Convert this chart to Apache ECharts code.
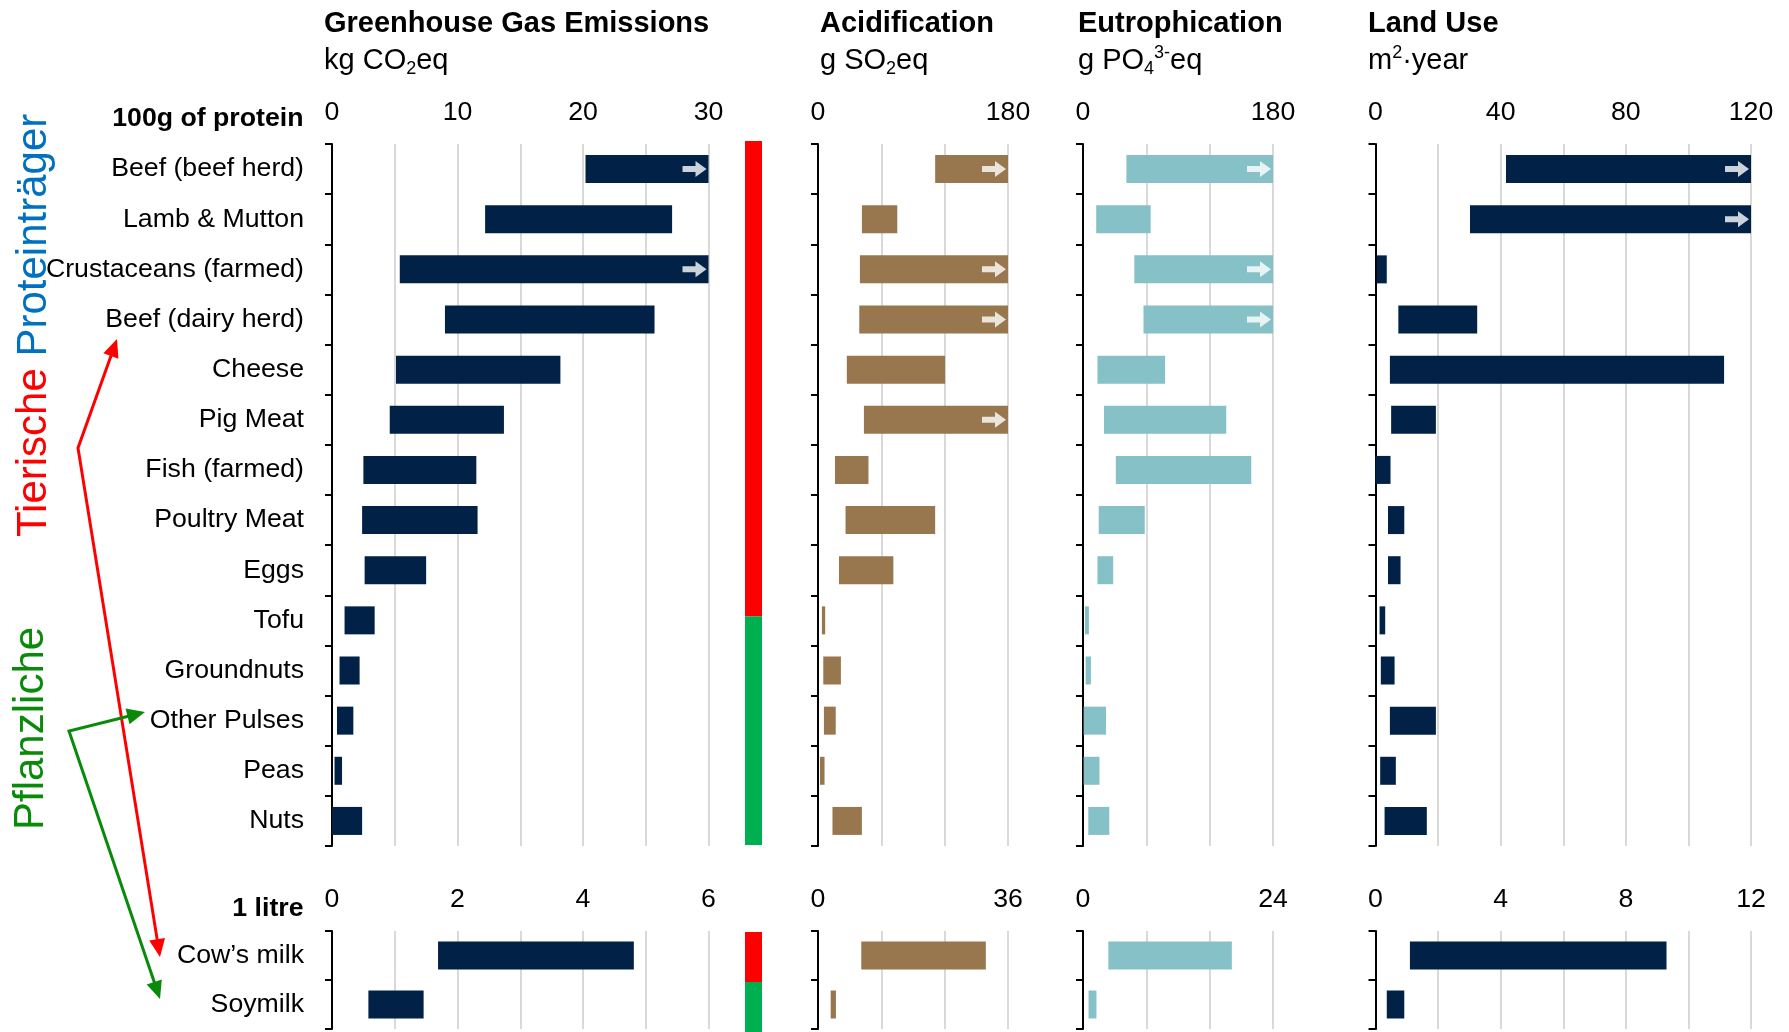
<!DOCTYPE html>
<html>
<head>
<meta charset="utf-8">
<script src="https://cdn.jsdelivr.net/npm/echarts@6/dist/echarts.min.js"></script>
<style>html,body{margin:0;padding:0;background:#fff}#chart{width:1789px;height:1032px}</style>
</head>
<body>
<div id="chart"></div>
<script>
var foods = ['Beef (beef herd)', 'Lamb & Mutton', 'Crustaceans (farmed)', 'Beef (dairy herd)', 'Cheese',
    'Pig Meat', 'Fish (farmed)', 'Poultry Meat', 'Eggs', 'Tofu', 'Groundnuts', 'Other Pulses', 'Peas', 'Nuts'];
var drinks = ['Cow\u2019s milk', 'Soymilk'];

// per 100g of protein: low / high end of each range (high = axis max -> bar is cut, arrow)
var ghgLow   = [20.2, 12.2, 5.4, 9.0, 5.1, 4.6, 2.5, 2.4, 2.6, 1.0, 0.6, 0.4, 0.2, 0.0];
var ghgHigh  = [30, 27.1, 30, 25.7, 18.2, 13.7, 11.5, 11.6, 7.5, 3.4, 2.2, 1.7, 0.8, 2.4];
var acidLow  = [111, 41.6, 39.7, 39.1, 27.3, 43.5, 16.1, 26.1, 19.9, 3.7, 5.0, 5.6, 1.9, 13.7];
var acidHigh = [180, 75.1, 180, 180, 120.4, 180, 47.8, 111, 71.4, 6.8, 21.7, 16.8, 6.2, 41.6];
var eutLow   = [41.1, 12.5, 48.6, 57.3, 13.7, 19.9, 31.1, 14.9, 13.7, 1.9, 2.5, 0.6, 0.6, 5.0];
var eutHigh  = [180, 64.1, 180, 180, 77.8, 135.7, 159.4, 58.5, 28.6, 5.6, 7.5, 21.8, 15.6, 24.9];
var landLow  = [41.7, 30.2, 0.4, 7.3, 4.6, 5.0, 0.0, 4.0, 4.0, 1.3, 1.7, 4.6, 1.5, 2.9];
var landHigh = [120, 120, 3.6, 32.5, 111.4, 19.3, 4.8, 9.2, 8.0, 3.1, 6.1, 19.3, 6.5, 16.4];

// per litre
var milkGhgLow = [1.69, 0.58],  milkGhgHigh = [4.81, 1.46];
var milkAcidLow = [8.2, 2.4],   milkAcidHigh = [31.8, 3.4];
var milkEutLow = [3.2, 0.7],    milkEutHigh = [18.8, 1.7];
var milkLandLow = [1.1, 0.36],  milkLandHigh = [9.3, 0.92];

// tick labels shown on each axis
var ghgTicks = [0, 10, 20, 30], acidTicks = [0, 180], eutTicks = [0, 180], landTicks = [0, 40, 80, 120];
var milkGhgTicks = [0, 2, 4, 6], milkAcidTicks = [0, 36], milkEutTicks = [0, 24], milkLandTicks = [0, 4, 8, 12];

// rows covered by animal (red) / plant (green) marker
var groupRows = [9.45, 4.55];
var milkGroupRows = [1, 1];

var FONT = "'Liberation Sans', Arial, sans-serif";
var NAVY = '#012147', BROWN = '#98774E', TEAL = '#86C1C7';

var panels = [
    {grid: {left: 332, top: 144, width: 376.5, height: 702}, cats: foods, low: ghgLow, high: ghgHigh, step: 5, ticks: ghgTicks, color: NAVY, labels: true},
    {grid: {left: 818, top: 144, width: 190, height: 702}, cats: foods, low: acidLow, high: acidHigh, step: 60, ticks: acidTicks, color: BROWN},
    {grid: {left: 1083, top: 144, width: 190, height: 702}, cats: foods, low: eutLow, high: eutHigh, step: 60, ticks: eutTicks, color: TEAL},
    {grid: {left: 1375.5, top: 144, width: 375.5, height: 702}, cats: foods, low: landLow, high: landHigh, step: 20, ticks: landTicks, color: NAVY},
    {grid: {left: 332, top: 931, width: 376.5, height: 98}, cats: drinks, low: milkGhgLow, high: milkGhgHigh, step: 1, ticks: milkGhgTicks, color: NAVY, labels: true},
    {grid: {left: 818, top: 931, width: 190, height: 98}, cats: drinks, low: milkAcidLow, high: milkAcidHigh, step: 12, ticks: milkAcidTicks, color: BROWN},
    {grid: {left: 1083, top: 931, width: 190, height: 98}, cats: drinks, low: milkEutLow, high: milkEutHigh, step: 8, ticks: milkEutTicks, color: TEAL},
    {grid: {left: 1375.5, top: 931, width: 375.5, height: 98}, cats: drinks, low: milkLandLow, high: milkLandHigh, step: 2, ticks: milkLandTicks, color: NAVY}
];

var grids = [], xAxes = [], yAxes = [], series = [];
var arrowPath = 'path://M0,5 L13,5 L13,0 L24,8 L13,16 L13,11 L0,11 Z';

panels.forEach(function (p, i) {
    var max = p.ticks[p.ticks.length - 1];
    grids.push(p.grid);
    xAxes.push({
        gridIndex: i, type: 'value', position: 'top', min: 0, max: max, interval: p.step,
        axisLine: {show: false}, axisTick: {show: false},
        splitLine: {show: true, lineStyle: {color: '#D9D9D9', width: 2}},
        axisLabel: {
            margin: 18, fontSize: 26.7, color: '#000', fontFamily: FONT,
            formatter: function (v) { return p.ticks.indexOf(v) >= 0 ? String(v) : ''; }
        }
    });
    yAxes.push({
        gridIndex: i, type: 'category', inverse: true, data: p.cats,
        axisLine: {show: true, lineStyle: {color: '#000', width: 2}},
        axisTick: {show: true, length: 7, lineStyle: {color: '#000', width: 2}},
        axisLabel: {show: !!p.labels, margin: 28, fontSize: 26.7, color: '#000', fontFamily: FONT},
        splitLine: {show: false}
    });
    series.push({
        type: 'bar', xAxisIndex: i, yAxisIndex: i, stack: 's' + i, silent: true,
        barWidth: 28, itemStyle: {color: 'transparent'}, data: p.low
    });
    series.push({
        type: 'bar', xAxisIndex: i, yAxisIndex: i, stack: 's' + i, silent: true,
        barWidth: 28, itemStyle: {color: p.color},
        data: p.high.map(function (h, k) { return +(h - p.low[k]).toFixed(3); })
    });
    var cut = [];
    p.high.forEach(function (h, k) { if (h >= max) cut.push([max, k]); });
    if (cut.length) {
        series.push({
            type: 'scatter', xAxisIndex: i, yAxisIndex: i, silent: true, z: 5,
            symbol: arrowPath, symbolSize: [24, 16], symbolOffset: [-14, 0],
            itemStyle: {color: '#fff'}, data: cut
        });
    }
});

// red / green group markers
[[{left: 745, top: 141, width: 17, height: 704}, groupRows],
 [{left: 745, top: 932, width: 17, height: 100}, milkGroupRows]].forEach(function (m) {
    var gi = grids.length;
    grids.push(m[0]);
    xAxes.push({gridIndex: gi, type: 'category', data: [''], show: false});
    yAxes.push({gridIndex: gi, type: 'value', inverse: true, min: 0, max: m[1][0] + m[1][1], show: false});
    series.push({type: 'bar', xAxisIndex: gi, yAxisIndex: gi, stack: 'g' + gi, barWidth: '100%', silent: true,
        itemStyle: {color: '#FF0000'}, data: [m[1][0]]});
    series.push({type: 'bar', xAxisIndex: gi, yAxisIndex: gi, stack: 'g' + gi, barWidth: '100%', silent: true,
        itemStyle: {color: '#00B050'}, data: [m[1][1]]});
});

function subTitle() {
    return {
        color: '#000', fontSize: 29, fontFamily: FONT, lineHeight: 34,
        rich: {
            n: {fontSize: 29, lineHeight: 34, color: '#000', fontFamily: FONT},
            s: {fontSize: 18, lineHeight: 20, verticalAlign: 'bottom', color: '#000', fontFamily: FONT},
            u: {fontSize: 18, lineHeight: 20, verticalAlign: 'top', color: '#000', fontFamily: FONT}
        }
    };
}
function mkTitle(left, text, sub) {
    return {
        left: left, top: 7, padding: 0, itemGap: 3, text: text, subtext: sub,
        textStyle: {fontSize: 29, fontWeight: 'bold', color: '#000', fontFamily: FONT, lineHeight: 34},
        subtextStyle: subTitle()
    };
}

function shorten(a, b, d) {
    var dx = a[0] - b[0], dy = a[1] - b[1], l = Math.sqrt(dx * dx + dy * dy);
    return [a[0] - dx / l * d, a[1] - dy / l * d];
}
function arrowHead(tip, from, color) {
    var dx = tip[0] - from[0], dy = tip[1] - from[1], l = Math.sqrt(dx * dx + dy * dy);
    dx /= l; dy /= l;
    var L = 18, W = 8, bx = tip[0] - dx * L, by = tip[1] - dy * L;
    return {type: 'polygon', shape: {points: [tip, [bx - dy * W, by + dx * W], [bx + dy * W, by - dx * W]]},
        style: {fill: color}, silent: true};
}
function bentArrow(a, v, b, color) {
    return [
        {type: 'polyline', silent: true, shape: {points: [shorten(a, v, 10), v, shorten(b, v, 10)]},
            style: {stroke: color, lineWidth: 3, fill: 'none'}},
        arrowHead(a, v, color), arrowHead(b, v, color)
    ];
}
function txt(x, y, text, font, align) {
    return {type: 'text', x: x, y: y, silent: true,
        style: {text: text, font: font, fill: '#000', align: align, textAlign: align,
            verticalAlign: 'middle', textVerticalAlign: 'middle'}};
}

var graphics = []
    .concat(bentArrow([117, 339], [78, 448], [160, 957], '#FF0000'))
    .concat(bentArrow([145, 712], [69, 731], [160, 999], '#0A8A0A'))
    .concat([
        txt(303.5, 118.5, '100g of protein', 'bold 26.7px ' + FONT, 'right'),
        txt(303.5, 909, '1 litre', 'bold 26.7px ' + FONT, 'right'),
        {type: 'text', x: 34, y: 537, rotation: Math.PI / 2, silent: true,
            style: {text: '{r|Tierische }{b|Proteinträger}', align: 'left', verticalAlign: 'middle',
                textAlign: 'left', textVerticalAlign: 'middle',
                rich: {r: {fill: '#FF0000', fontSize: 42, fontFamily: FONT},
                       b: {fill: '#0070C0', fontSize: 42, fontFamily: FONT}}}},
        {type: 'text', x: 31, y: 830, rotation: Math.PI / 2, silent: true,
            style: {text: 'Pflanzliche', font: '42px ' + FONT, fill: '#0A8A0A', align: 'left',
                verticalAlign: 'middle', textAlign: 'left', textVerticalAlign: 'middle'}}
    ]);

var chart = echarts.init(document.getElementById('chart'));
chart.setOption({
    animation: false,
    backgroundColor: '#fff',
    title: [
        mkTitle(324, 'Greenhouse Gas Emissions', '{n|kg CO}{s|2}{n|eq}'),
        mkTitle(820, 'Acidification', '{n|g SO}{s|2}{n|eq}'),
        mkTitle(1078, 'Eutrophication', '{n|g PO}{s|4}{u|3-}{n|eq}'),
        mkTitle(1368, 'Land Use', '{n|m}{u|2}{n|\u00B7year}')
    ],
    grid: grids,
    xAxis: xAxes,
    yAxis: yAxes,
    series: series,
    graphic: graphics
});
</script>
</body>
</html>
